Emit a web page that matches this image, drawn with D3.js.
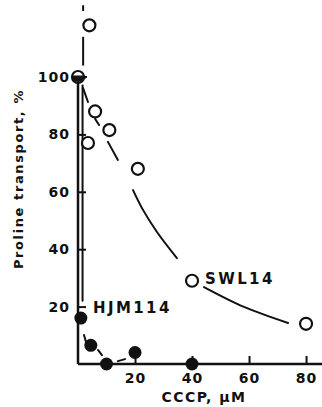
<!DOCTYPE html>
<html>
<head>
<meta charset="utf-8">
<script src="https://cdn.jsdelivr.net/npm/d3@7"></script>
<style>
  body { margin: 0; background: #fff; }
  text { font-family: "DejaVu Sans", sans-serif; font-weight: bold; fill: #111; }
</style>
</head>
<body>
<div id="main"></div>
<script>
// data (CCCP in uM, transport in %)
const xTicks = [20, 40, 60, 80];
const yTicks = [20, 40, 60, 80, 100];

const swlCccp = [0, 3.5, 4, 6, 11, 21, 40, 80];
const swlTransport = [100, 77, 118, 88, 81.5, 68, 29, 14];

const hjmCccp = [0, 1, 4.5, 10, 20, 40];
const hjmTransport = [100, 16, 6.5, 0, 4, 0];

// hand-drawn fitted curves, as the visible pieces between the markers
const swlCurve = [
  [[1.75, 96.2], [3.5, 91.3]],
  [[6, 85.4], [7.4, 83.3]],
  [[10.5, 77.4], [14, 71.1]],
  [[19.3, 60.6], [22.8, 53.7], [27.7, 46], [34.7, 36.9]],
  [[44.2, 26.8], [58.2, 19.9], [73.7, 14.3]]
];
const hjmCurve = [
  [[1.6, 97], [1.6, 22]],
  [[2.1, 10.1], [2.8, 7.7]],
  [[7, 4.9], [8.4, 3.1]],
  [[14, 1], [16.5, 1.7]]
];

const width = 322, height = 407;
const svg = d3.select('#main').append('svg')
  .attr('width', width).attr('height', height);

const x = d3.scaleLinear().domain([0, 85]).range([78, 320.3]);
const y = d3.scaleLinear().domain([0, 100]).range([364, 77]);

// axes
svg.append('line').attr('x1', x(0)).attr('x2', width).attr('y1', y(0)).attr('y2', y(0))
  .attr('stroke', '#111').attr('stroke-width', 2.5);
svg.append('line').attr('x1', x(0)).attr('x2', x(0)).attr('y1', y(0)).attr('y2', y(100))
  .attr('stroke', '#111').attr('stroke-width', 2.5);
svg.append('line').attr('x1', x(1.8)).attr('x2', x(1.8)).attr('y1', y(104)).attr('y2', y(114))
  .attr('stroke', '#111').attr('stroke-width', 2);
svg.append('line').attr('x1', x(1.8)).attr('x2', x(1.8)).attr('y1', y(123)).attr('y2', y(125))
  .attr('stroke', '#111').attr('stroke-width', 2);

function styleTicks(g) {
  g.select('.domain').remove();
  g.selectAll('line').attr('stroke', '#111').attr('stroke-width', 2);
  g.selectAll('text').attr('font-size', 14).attr('fill', '#111').attr('letter-spacing', 1)
    .style('font-family', '"DejaVu Sans", sans-serif').style('font-weight', 'bold');
}
svg.append('g').attr('transform', `translate(0,${y(0)})`)
  .call(d3.axisBottom(x).tickValues(xTicks).tickSizeInner(-8).tickSizeOuter(0).tickPadding(9))
  .call(styleTicks);
svg.append('g').attr('transform', `translate(${x(0)},0)`)
  .call(d3.axisLeft(y).tickValues(yTicks).tickSizeInner(-8).tickSizeOuter(0).tickPadding(8))
  .call(styleTicks);

// curves
const smooth = d3.line().x(d => x(d[0])).y(d => y(d[1])).curve(d3.curveCatmullRom);
svg.append('g').selectAll('path').data(swlCurve.concat(hjmCurve)).join('path')
  .attr('d', smooth).attr('fill', 'none').attr('stroke', '#111').attr('stroke-width', 2)
  .attr('stroke-linecap', 'round');

// markers
svg.append('g').selectAll('circle').data(hjmCccp.map((v, i) => [v, hjmTransport[i]]).slice(1))
  .join('circle').attr('cx', d => x(d[0])).attr('cy', d => y(d[1])).attr('r', 6.5)
  .attr('fill', '#111');
svg.append('g').selectAll('circle').data(swlCccp.map((v, i) => [v, swlTransport[i]]))
  .join('circle').attr('cx', d => x(d[0])).attr('cy', d => y(d[1])).attr('r', 6)
  .attr('fill', '#fff').attr('stroke', '#111').attr('stroke-width', 2.2);
// shared point at 0 uM: open and filled markers overlap
svg.append('path')
  .attr('transform', `translate(${x(hjmCccp[0])},${y(hjmTransport[0])})`)
  .attr('d', 'M-6.5,-1.5 A6.5,6.5 0 1,0 6.5,-1.5 Z').attr('fill', '#111');
svg.append('line').attr('x1', x(0)).attr('x2', x(0) + 9).attr('y1', y(100)).attr('y2', y(100))
  .attr('stroke', '#111').attr('stroke-width', 2);

// labels
svg.append('text').attr('x', 205).attr('y', 284).attr('font-size', 15)
  .attr('letter-spacing', 2.4).text('SWL14');
svg.append('text').attr('x', 93).attr('y', 313).attr('font-size', 15)
  .attr('letter-spacing', 2.4).text('HJM114');
svg.append('text').attr('x', 204).attr('y', 402).attr('font-size', 14)
  .attr('text-anchor', 'middle').attr('letter-spacing', 1.5).text('CCCP, \u00b5M');
svg.append('text').attr('transform', 'translate(23,179) rotate(-90)').attr('font-size', 13)
  .attr('text-anchor', 'middle').attr('letter-spacing', 1.6).text('Proline transport, %');
</script>
</body>
</html>
